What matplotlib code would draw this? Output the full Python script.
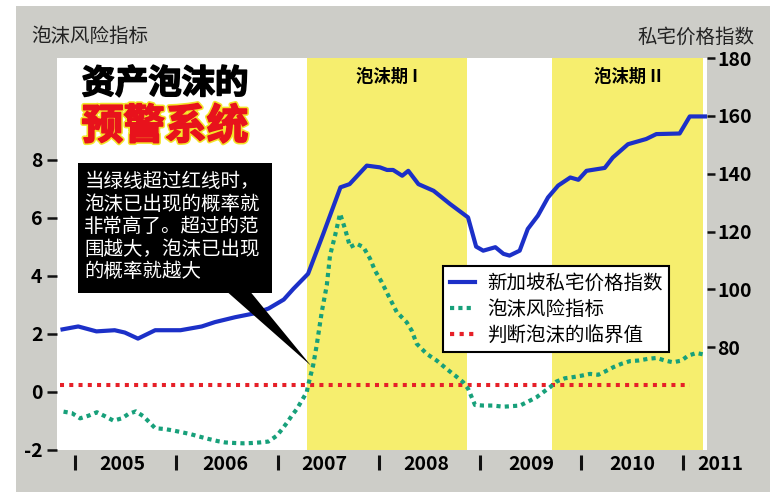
import matplotlib
matplotlib.use('Agg')
import matplotlib.pyplot as plt
import matplotlib.patheffects as pe
from matplotlib.patches import Rectangle, Polygon
from matplotlib.lines import Line2D

plt.rcParams['font.family'] = ['Noto Sans CJK SC', 'DejaVu Sans']

# 新加坡私宅价格指数 (right axis)
price_t = [2004.875, 2005.03, 2005.21, 2005.39, 2005.49, 2005.62, 2005.79, 2006.04,
           2006.25, 2006.38, 2006.58, 2006.78, 2006.91, 2007.06, 2007.155, 2007.30,
           2007.45, 2007.62, 2007.71, 2007.88, 2008.01, 2008.08, 2008.14, 2008.23,
           2008.29, 2008.39, 2008.54, 2008.70, 2008.88, 2008.96, 2009.03, 2009.15,
           2009.23, 2009.29, 2009.39, 2009.47, 2009.57, 2009.67, 2009.77, 2009.89,
           2009.97, 2010.05, 2010.23, 2010.31, 2010.46, 2010.64, 2010.74, 2010.97,
           2011.07, 2011.24]
price = [86.2, 87.2, 85.5, 85.9, 85.1, 83.0, 85.9, 85.9,
         87.2, 88.7, 90.4, 91.8, 93.4, 96.5, 100.2, 105.4,
         119.2, 135.3, 136.4, 142.8, 142.2, 141.3, 141.3, 139.3,
         141.0, 136.4, 134.1, 129.6, 124.9, 114.8, 113.4, 114.6,
         112.3, 111.7, 113.4, 120.9, 125.5, 131.8, 135.9, 138.7,
         137.9, 141.0, 142.0, 145.6, 150.2, 152.0, 153.7, 153.9,
         159.8, 159.8]

# 泡沫风险指标 (left axis)
risk_t = [2004.885, 2004.967, 2005.049, 2005.131, 2005.214, 2005.296, 2005.378, 2005.461,
          2005.526, 2005.599, 2005.674, 2005.740, 2005.790, 2005.888, 2005.970, 2006.053,
          2006.135, 2006.217, 2006.316, 2006.415, 2006.481, 2006.579, 2006.661, 2006.744,
          2006.826, 2006.908, 2006.991, 2007.040, 2007.090, 2007.139, 2007.189, 2007.238,
          2007.287, 2007.30, 2007.35, 2007.385, 2007.435, 2007.485, 2007.517, 2007.567,
          2007.616, 2007.665, 2007.715, 2007.781, 2007.846, 2007.912, 2007.961, 2008.028,
          2008.093, 2008.176, 2008.274, 2008.324, 2008.373, 2008.472, 2008.571, 2008.669,
          2008.768, 2008.833, 2008.882, 2008.916, 2008.949, 2009.031, 2009.129, 2009.228,
          2009.311, 2009.393, 2009.475, 2009.558, 2009.623, 2009.689, 2009.755, 2009.837,
          2009.919, 2010.002, 2010.084, 2010.166, 2010.232, 2010.314, 2010.397, 2010.479,
          2010.561, 2010.659, 2010.743, 2010.825, 2010.906, 2010.989, 2011.054, 2011.137,
          2011.219]
risk = [-0.68, -0.73, -0.91, -0.82, -0.70, -0.84, -0.99, -0.91,
        -0.76, -0.67, -0.84, -1.07, -1.25, -1.28, -1.33, -1.39,
        -1.45, -1.53, -1.62, -1.70, -1.74, -1.76, -1.77, -1.76,
        -1.74, -1.71, -1.51, -1.30, -1.07, -0.82, -0.59, -0.30,
        -0.01, 0.22, 0.91, 1.60, 2.75, 3.67, 4.70, 5.39,
        6.14, 5.62, 4.99, 5.10, 4.99, 4.59, 4.18, 3.78,
        3.32, 2.75, 2.40, 2.11, 1.66, 1.31, 1.08, 0.79,
        0.52, 0.33, 0.10, -0.18, -0.45, -0.47, -0.47, -0.51,
        -0.49, -0.47, -0.33, -0.18, -0.01, 0.16, 0.36, 0.47,
        0.51, 0.56, 0.62, 0.59, 0.70, 0.85, 0.97, 1.06,
        1.08, 1.14, 1.17, 1.08, 1.02, 1.08, 1.25, 1.34,
        1.28]

# 判断泡沫的临界值
threshold = 0.25
threshold_t = [2004.85, 2011.07]

bubble_periods = [(2007.29, 2008.87), (2009.71, 2011.2)]
bubble_labels = ['泡沫期 I', '泡沫期 II']

year_ticks = [2005, 2006, 2007, 2008, 2009, 2010, 2011]
year_label_x = [2005.47, 2006.48, 2007.46, 2008.47, 2009.5, 2010.5, 2011.37]
year_labels = ['2005', '2006', '2007', '2008', '2009', '2010', '2011']

left_ticks = [-2, 0, 2, 4, 6, 8]
right_ticks = [80, 100, 120, 140, 160, 180]

note = '当绿线超过红线时，\n泡沫已出现的概率就\n非常高了。超过的范\n围越大，泡沫已出现\n的概率就越大'

blue = '#1c30c8'
green = '#17a07a'
red = '#e62028'
yellow = '#f6ee6e'
paper = '#cdcdc8'


def main():
    fig = plt.figure(figsize=(7.74, 4.92), dpi=100)
    fig.patch.set_facecolor('white')
    fig.add_artist(Rectangle((0.0207, 0), 0.974, 0.988, transform=fig.transFigure,
                             facecolor=paper, edgecolor='none', zorder=0))

    ax = fig.add_axes([0.0736, 0.0854, 0.8398, 0.7967])
    ax.set_facecolor('white')
    ax2 = ax.twinx()

    for a, b in bubble_periods:
        ax.axvspan(a, b, color=yellow, lw=0, zorder=0)
    for (a, b), lbl in zip(bubble_periods, bubble_labels):
        ax.text((a + b) / 2, 0.952, lbl, transform=ax.get_xaxis_transform(),
                ha='center', va='center', fontsize=12.5, fontweight='bold')

    ax.plot(threshold_t, [threshold] * 2, color=red, lw=2.9,
            linestyle=(0, (1, 1.3)), zorder=2)
    ax.plot(risk_t, risk, color=green, lw=3, linestyle=(0, (1, 1)), zorder=3)
    ax2.plot(price_t, price, color=blue, lw=3, zorder=3)

    ax.set_xlim(2004.82, 2011.24)
    ax.set_ylim(-2, 11.5)
    ax2.set_ylim(44.5, 180)
    ax.set_xticks([])
    ax.set_yticks(left_ticks, [str(v) for v in left_ticks], fontsize=14, fontweight='bold')
    ax2.set_yticks(right_ticks, [str(v) for v in right_ticks], fontsize=14, fontweight='bold')
    ax.tick_params(axis='y', length=7, width=1.8, pad=3.5, color='#111')
    ax2.tick_params(axis='y', length=6, width=1.8, pad=1.5, color='#111')
    for a in (ax, ax2):
        for s in a.spines.values():
            s.set_visible(False)

    ax.vlines(year_ticks, -0.012, -0.052, transform=ax.get_xaxis_transform(),
              clip_on=False, color='#111', lw=2.2)
    for x, lbl in zip(year_label_x, year_labels):
        ax.text(x, -0.037, lbl, transform=ax.get_xaxis_transform(), ha='center',
                va='center', fontsize=14, fontweight='bold', clip_on=False)

    # 标题
    ax2.text(0.038, 0.934, '资产泡沫的', transform=ax2.transAxes, fontsize=24,
             fontweight='black', va='center', zorder=6,
             path_effects=[pe.withStroke(linewidth=1.2, foreground='black')])
    ax2.text(0.038, 0.824, '预警系统', transform=ax2.transAxes, fontsize=30,
             fontweight='black', color='#e8121c', va='center', zorder=6,
             path_effects=[pe.withStroke(linewidth=3.5, foreground='#f3e52a'),
                           pe.withStroke(linewidth=1.2, foreground='#e8121c')])

    # 黑色说明框
    ax2.add_patch(Rectangle((0.032, 0.40), 0.299, 0.332, transform=ax2.transAxes,
                            facecolor='black', edgecolor='none', zorder=5))
    ax2.add_patch(Polygon([(2006.50, 3.45), (2006.73, 3.45), (2007.33, 0.90)],
                          closed=True, transform=ax.transData,
                          facecolor='black', edgecolor='none', zorder=5))
    ax2.text(0.042, 0.712, note, transform=ax2.transAxes, color='white',
             fontsize=14, va='top', ha='left', linespacing=1.1, zorder=6)

    handles = [Line2D([], [], color=blue, lw=3),
               Line2D([], [], color=green, lw=3, linestyle=(0, (1, 1))),
               Line2D([], [], color=red, lw=3, linestyle=(0, (1, 1.3)))]
    labels = ['新加坡私宅价格指数', '泡沫风险指标', '判断泡沫的临界值']
    leg = ax2.legend(handles, labels, loc='upper left', bbox_to_anchor=(0.594, 0.469),
                     fontsize=14, frameon=True, fancybox=False, edgecolor='black',
                     framealpha=1, handlelength=1.3, handletextpad=0.6,
                     labelspacing=0.25, borderpad=0.35, borderaxespad=0)
    leg.get_frame().set_linewidth(1.5)
    leg.set_zorder(7)

    fig.text(0.041, 0.925, '泡沫风险指标', fontsize=14, va='center', color='#222')
    fig.text(0.975, 0.925, '私宅价格指数', fontsize=14, va='center', ha='right', color='#222')

    fig.savefig('out.png', dpi=100)


main()
